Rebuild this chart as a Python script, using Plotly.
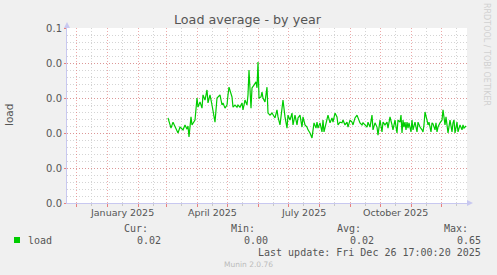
import datetime as dt
import plotly.graph_objects as go

# ---- data ----
day_offsets = [61, 64, 66, 68, 71, 73, 76, 78, 80, 81, 82, 84, 85, 88, 90, 91, 93, 95, 96, 98,
               100, 101, 103, 105, 108, 110, 113, 115, 116, 118, 120, 121, 122, 125, 126, 128, 130, 131, 133, 135,
               136, 138, 140, 141, 142, 144, 145, 147, 149, 150, 151, 152, 154, 155, 156, 158, 160, 161, 163, 165,
               166, 168, 170, 171, 173, 175, 176, 178, 180, 181, 183, 185, 186, 188, 190, 191, 193, 195, 196, 198,
               200, 201, 203, 205, 206, 207, 209, 210, 211, 213, 215, 216, 217, 219, 221, 223, 225, 226, 228, 230,
               231, 233, 235, 236, 238, 240, 241, 243, 245, 246, 248, 250, 251, 253, 255, 256, 258, 260, 261, 263,
               265, 266, 268, 270, 271, 272, 273, 275, 276, 278, 280, 281, 283, 285, 286, 288, 290, 291, 293, 294,
               295, 296, 297, 298, 299, 300, 301, 302, 304, 305, 306, 308, 310, 311, 313, 315, 316, 317, 318, 320,
               321, 322, 324, 325, 326, 328, 329, 330, 331, 333, 335, 336, 338, 339, 340, 341, 343, 345, 346, 347,
               348, 350, 351, 353, 355, 356, 357, 359]
load_values = [0.0243, 0.0214, 0.0231, 0.0220, 0.0200, 0.0217, 0.0209, 0.0223, 0.0211, 0.0220,
               0.0189, 0.0246, 0.0223, 0.0237, 0.0300, 0.0274, 0.0289, 0.0271, 0.0309, 0.0294,
               0.0323, 0.0286, 0.0309, 0.0280, 0.0231, 0.0300, 0.0309, 0.0280, 0.0286, 0.0271,
               0.0280, 0.0309, 0.0331, 0.0303, 0.0274, 0.0280, 0.0274, 0.0280, 0.0274, 0.0286,
               0.0266, 0.0294, 0.0280, 0.0309, 0.0380, 0.0271, 0.0329, 0.0337, 0.0346, 0.0329,
               0.0403, 0.0300, 0.0303, 0.0317, 0.0300, 0.0289, 0.0331, 0.0257, 0.0251, 0.0257,
               0.0251, 0.0243, 0.0266, 0.0246, 0.0223, 0.0274, 0.0294, 0.0246, 0.0214, 0.0251,
               0.0237, 0.0257, 0.0223, 0.0251, 0.0223, 0.0243, 0.0251, 0.0217, 0.0246, 0.0223,
               0.0217, 0.0209, 0.0200, 0.0186, 0.0214, 0.0229, 0.0214, 0.0231, 0.0214, 0.0229,
               0.0203, 0.0237, 0.0203, 0.0231, 0.0251, 0.0229, 0.0243, 0.0231, 0.0257, 0.0246,
               0.0223, 0.0231, 0.0229, 0.0237, 0.0223, 0.0231, 0.0217, 0.0237, 0.0231, 0.0223,
               0.0243, 0.0251, 0.0243, 0.0229, 0.0223, 0.0229, 0.0223, 0.0217, 0.0231, 0.0217,
               0.0251, 0.0209, 0.0229, 0.0217, 0.0194, 0.0223, 0.0237, 0.0203, 0.0231, 0.0223,
               0.0231, 0.0214, 0.0246, 0.0223, 0.0209, 0.0237, 0.0200, 0.0237, 0.0231, 0.0251,
               0.0200, 0.0237, 0.0217, 0.0231, 0.0209, 0.0231, 0.0214, 0.0229, 0.0203, 0.0237,
               0.0209, 0.0231, 0.0203, 0.0231, 0.0217, 0.0209, 0.0203, 0.0223, 0.0260, 0.0237,
               0.0223, 0.0231, 0.0203, 0.0229, 0.0226, 0.0209, 0.0229, 0.0203, 0.0217, 0.0229,
               0.0237, 0.0266, 0.0223, 0.0246, 0.0217, 0.0200, 0.0237, 0.0203, 0.0229, 0.0237,
               0.0200, 0.0231, 0.0203, 0.0223, 0.0209, 0.0223, 0.0214, 0.0220]

y_tick_values = [0.0, 0.01, 0.02, 0.03, 0.04, 0.05]
y_tick_labels = ["0.0", "0.0", "0.0", "0.0", "0.0", "0.1"]
x_label_dates = ["2025-01-16", "2025-04-16", "2025-07-16", "2025-10-16"]
x_label_texts = ["January 2025", "April 2025", "July 2025", "October 2025"]
legend_headers = ["Cur:", "Min:", "Avg:", "Max:"]
legend_values = ["0.02", "0.00", "0.02", "0.65"]
series_name = "load"
last_update = "Last update: Fri Dec 26 17:00:20 2025"

base = dt.datetime(2025, 1, 1)
dates = [base + dt.timedelta(days=d) for d in day_offsets]

month_starts = [dt.datetime(2024, 12, 1)] + [dt.datetime(2025, m, 1) for m in range(1, 13)]
mid_months = [dt.datetime(2024, 11, 16), dt.datetime(2024, 12, 16)] + [dt.datetime(2025, m, 16) for m in range(1, 13)]

L, R, T, B = 67, 30, 28, 72
W, H = 497, 275
PW, PH = W - L - R, H - T - B


def pxx(x):
    return (x - L) / PW


def pyy(y):
    return (H - B - y) / PH


TXT = "#555555"
MONO = "DejaVu Sans Mono"
SANS = "DejaVu Sans"
MAJOR = "rgba(225,110,110,0.6)"
MINOR = "#D4D4D4"
DASH = "1px,2px"

fig = go.Figure()
fig.add_trace(go.Scatter(x=dates, y=load_values, mode="lines",
                         line=dict(color="#00CC00", width=1.2), hoverinfo="skip",
                         showlegend=False))

fig.update_layout(
    width=W, height=H,
    margin=dict(l=L, r=R, t=T, b=B, autoexpand=False),
    paper_bgcolor="#F0F0F0", plot_bgcolor="#FFFFFF",
    xaxis=dict(type="date", range=[dt.datetime(2024, 11, 22), dt.datetime(2025, 12, 27)],
               tickmode="array", tickvals=month_starts, showticklabels=False,
               showgrid=True, gridcolor=MAJOR, griddash=DASH, gridwidth=1,
               ticks="outside", ticklen=3, tickcolor="rgba(230,100,100,0.8)",
               minor=dict(tickmode="array", tickvals=mid_months, showgrid=True,
                          gridcolor=MINOR, griddash=DASH, gridwidth=1,
                          ticks="outside", ticklen=2, tickcolor="#C8C8C8"),
               showline=True, linecolor="#C8C8F0", linewidth=1, zeroline=False, fixedrange=True),
    yaxis=dict(range=[0, 0.05], tickmode="array", tickvals=y_tick_values, ticktext=y_tick_labels,
               tickfont=dict(family=SANS, size=10, color=TXT),
               showgrid=True, gridcolor=MAJOR, griddash=DASH, gridwidth=1,
               ticks="outside", ticklen=2, tickcolor="rgba(230,100,100,0.8)",
               minor=dict(dtick=0.002, showgrid=True, gridcolor=MINOR, griddash=DASH, gridwidth=1),
               showline=True, linecolor="#C8C8F0", linewidth=1, zeroline=False, fixedrange=True),
)

ann = []
# title
ann.append(dict(x=pxx(248), y=pyy(19), xref="paper", yref="paper", text="Load average - by year",
                showarrow=False, font=dict(family=SANS, size=12.7, color=TXT), xanchor="center", yanchor="middle"))
# y label
ann.append(dict(x=pxx(9), y=pyy(115), xref="paper", yref="paper", text="load", textangle=-90,
                showarrow=False, font=dict(family=SANS, size=10.5, color=TXT), xanchor="center", yanchor="middle"))
# x labels
for d, t in zip(x_label_dates, x_label_texts):
    ann.append(dict(x=d, y=pyy(212), xref="x", yref="paper", text=t, showarrow=False,
                    font=dict(family=SANS, size=9.5, color=TXT), xanchor="center", yanchor="middle"))
# watermark
ann.append(dict(x=pxx(487), y=pyy(54), xref="paper", yref="paper", text="RRDTOOL / TOBI OETIKER",
                textangle=90, showarrow=False, font=dict(family=SANS, size=8, color="#D0D0D0"),
                xanchor="center", yanchor="middle"))
# legend headers
for xr, t in zip([150, 257, 363, 470], legend_headers):
    ann.append(dict(x=pxx(xr), y=pyy(228), xref="paper", yref="paper", text=t, showarrow=False,
                    font=dict(family=MONO, size=10, color=TXT), xanchor="right", yanchor="middle"))
ann.append(dict(x=pxx(26), y=pyy(240), xref="paper", yref="paper", text=series_name, showarrow=False,
                font=dict(family=MONO, size=10, color=TXT), xanchor="left", yanchor="middle"))
for xr, t in zip([163, 270, 376, 483], legend_values):
    ann.append(dict(x=pxx(xr), y=pyy(240), xref="paper", yref="paper", text=t, showarrow=False,
                    font=dict(family=MONO, size=10, color=TXT), xanchor="right", yanchor="middle"))
ann.append(dict(x=pxx(483), y=pyy(252), xref="paper", yref="paper", text=last_update, showarrow=False,
                font=dict(family=MONO, size=10, color=TXT), xanchor="right", yanchor="middle"))
ann.append(dict(x=pxx(248), y=pyy(264), xref="paper", yref="paper", text="Munin 2.0.76", showarrow=False,
                font=dict(family=SANS, size=7.5, color="#BBBBBB"), xanchor="center", yanchor="middle"))
fig.update_layout(annotations=ann)

shapes = []
# legend colour box
shapes.append(dict(type="rect", xref="paper", yref="paper", x0=pxx(14), x1=pxx(20), y0=pyy(243), y1=pyy(237),
                   fillcolor="#00CC00", line=dict(width=0)))
# axis arrows
shapes.append(dict(type="path", xref="paper", yref="paper", xsizemode="pixel", ysizemode="pixel",
                   xanchor=1, yanchor=0, path="M 0,-3 L 6,0 L 0,3 Z",
                   fillcolor="#C8C8F0", line=dict(width=0)))
shapes.append(dict(type="path", xref="paper", yref="paper", xsizemode="pixel", ysizemode="pixel",
                   xanchor=0, yanchor=1, path="M -3,0 L 0,6 L 3,0 Z",
                   fillcolor="#C8C8F0", line=dict(width=0)))
fig.update_layout(shapes=shapes)

fig.write_html("out.html")
